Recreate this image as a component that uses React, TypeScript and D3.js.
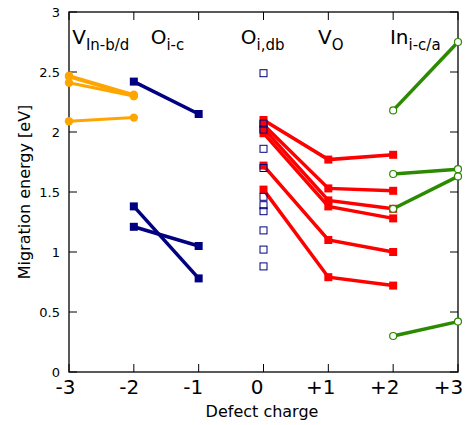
import React from "react";
import { scaleLinear, line } from "d3";

const width = 466;
const height = 425;
const margin = { left: 69, right: 8, top: 12, bottom: 53 };

// defect charge ticks
const xTicks = [-3, -2, -1, 0, 1, 2, 3];
const xTickLabels = ["-3", "-2", "-1", "0", "+1", "+2", "+3"];
const yTicks = [0, 0.5, 1, 1.5, 2, 2.5, 3];
const yTickLabels = ["0", "0.5", "1", "1.5", "2", "2.5", "3"];

// V_In-b/d
const orangeCharge = [-3, -2];
const orangeLines = [
  [2.47, 2.31],
  [2.46, 2.3],
  [2.41, 2.3],
  [2.09, 2.12],
];

// O_i-c
const navyCharge = [-2, -1];
const navyLines = [
  [2.42, 2.15],
  [1.38, 0.78],
  [1.21, 1.05],
];

// O_i,db (charge 0 only)
const dbCharge = 0;
const dbValues = [2.49, 2.07, 2.02, 1.86, 1.7, 1.46, 1.39, 1.34, 1.18, 1.02, 0.88];

// V_O
const redCharge = [0, 1, 2];
const redLines = [
  [2.1, 1.77, 1.81],
  [2.06, 1.53, 1.51],
  [2.03, 1.43, 1.36],
  [1.99, 1.38, 1.28],
  [1.72, 1.1, 1.0],
  [1.52, 0.79, 0.72],
];

// In_i-c/a
const greenCharge = [2, 3];
const greenLines = [
  [2.18, 2.75],
  [1.65, 1.69],
  [1.36, 1.63],
  [0.3, 0.42],
];

const labels = [
  { x: -2.95, main: "V", sub: "In-b/d" },
  { x: -1.74, main: "O", sub: "i-c" },
  { x: -0.35, main: "O", sub: "i,db" },
  { x: 0.84, main: "V", sub: "O" },
  { x: 1.95, main: "In", sub: "i-c/a" },
];

const font = "DejaVu Sans, sans-serif";

export default function App() {
  const x = scaleLinear().domain([-3, 3]).range([margin.left, width - margin.right]);
  const y = scaleLinear().domain([0, 3]).range([height - margin.bottom, margin.top]);

  const path = (charges: number[]) =>
    line<number>()
      .x((_, i) => x(charges[i]))
      .y((d) => y(d));

  const x0 = x.range()[0];
  const x1 = x.range()[1];
  const y0 = y.range()[0];
  const y1 = y.range()[1];
  const tl = 8;
  const sq = 8;

  return (
    <svg width={width} height={height} style={{ position: "absolute", left: 0, top: 0 }} fontFamily={font}>
      <rect width={width} height={height} fill="white" />

      {/* frame */}
      <rect x={x0} y={y1} width={x1 - x0} height={y0 - y1} fill="none" stroke="black" strokeWidth={1.3} />
      {xTicks.map((t, i) => (
        <g key={"xt" + i}>
          <line x1={x(t)} x2={x(t)} y1={y0} y2={y0 - tl} stroke="black" />
          <line x1={x(t)} x2={x(t)} y1={y1} y2={y1 + tl} stroke="black" />
          {/* labels sit a little left of their ticks in the original */}
          <text x={x(t) - 3.5 - i} y={y0 + 22} fontSize={20} textAnchor="middle">
            {xTickLabels[i]}
          </text>
        </g>
      ))}
      {yTicks.map((t, i) => (
        <g key={"yt" + i}>
          <line x1={x0} x2={x0 + tl} y1={y(t)} y2={y(t)} stroke="black" />
          <line x1={x1} x2={x1 - tl} y1={y(t)} y2={y(t)} stroke="black" />
          <text x={x0 - 9} y={y(t) + 4.5} fontSize={13} textAnchor="end">
            {yTickLabels[i]}
          </text>
        </g>
      ))}
      <text x={262} y={417} fontSize={16} textAnchor="middle">
        Defect charge
      </text>
      <text transform={`translate(30,${(y0 + y1) / 2}) rotate(-90)`} fontSize={16} textAnchor="middle">
        Migration energy [eV]
      </text>

      {/* orange */}
      {orangeLines.map((d, i) => (
        <g key={"o" + i}>
          <path d={path(orangeCharge)(d) || ""} fill="none" stroke="#ffa500" strokeWidth={3} />
          {d.map((v, j) => (
            <circle key={j} cx={x(orangeCharge[j])} cy={y(v)} r={4.2} fill="#ffa500" />
          ))}
        </g>
      ))}

      {/* navy */}
      {navyLines.map((d, i) => (
        <g key={"n" + i}>
          <path d={path(navyCharge)(d) || ""} fill="none" stroke="#000080" strokeWidth={3.5} />
          {d.map((v, j) => (
            <rect key={j} x={x(navyCharge[j]) - sq / 2} y={y(v) - sq / 2} width={sq} height={sq} fill="#000080" />
          ))}
        </g>
      ))}

      {/* red */}
      {redLines.map((d, i) => (
        <g key={"r" + i}>
          <path d={path(redCharge)(d) || ""} fill="none" stroke="#ff0000" strokeWidth={3.5} />
          {d.map((v, j) => (
            <rect key={j} x={x(redCharge[j]) - sq / 2} y={y(v) - sq / 2} width={sq} height={sq} fill="#ff0000" />
          ))}
        </g>
      ))}

      {/* open squares */}
      {dbValues.map((v, i) => (
        <rect
          key={"db" + i}
          x={x(dbCharge) - 3.5}
          y={y(v) - 3.5}
          width={7}
          height={7}
          fill="none"
          stroke="#000080"
          strokeWidth={1}
        />
      ))}

      {/* green */}
      {greenLines.map((d, i) => (
        <g key={"g" + i}>
          <path d={path(greenCharge)(d) || ""} fill="none" stroke="#2b8a00" strokeWidth={3.5} />
          {d.map((v, j) => (
            <circle key={j} cx={x(greenCharge[j])} cy={y(v)} r={3.5} fill="white" stroke="#2b8a00" strokeWidth={1.2} />
          ))}
        </g>
      ))}

      {/* defect labels */}
      {labels.map((l, i) => (
        <text key={"l" + i} x={x(l.x)} y={44} fontSize={20}>
          {l.main}
          <tspan fontSize={15} dy={6}>
            {l.sub}
          </tspan>
        </text>
      ))}
    </svg>
  );
}
